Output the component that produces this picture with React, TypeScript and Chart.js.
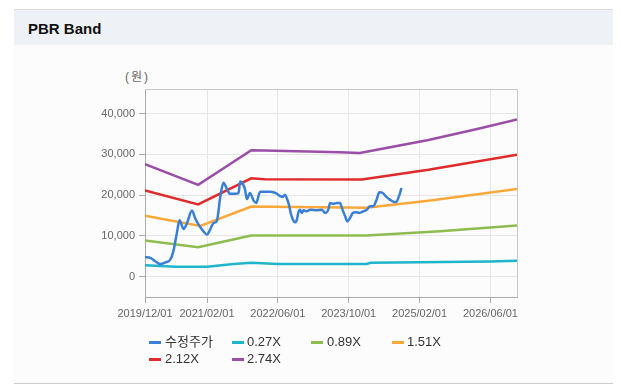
import React, { useEffect, useRef } from "react";
import { Chart, registerables } from "chart.js";

Chart.register(...registerables);

// ---- data ----
const xTickMonths = [0, 14, 30, 46, 62, 78]; // months since 2019/12
const xTickLabels = ["2019/12/01", "2021/02/01", "2022/06/01", "2023/10/01", "2025/02/01", "2026/06/01"];
const yTickValues = [0, 10000, 20000, 30000, 40000];

const priceMonths = [
  0.0, 1.2, 2.3, 3.4, 4.6, 5.7, 6.4, 7.2, 7.8, 8.7, 9.5, 10.6, 11.3, 12.1, 13.2, 14.0, 14.7, 15.5, 16.2,
  17.0, 17.7, 18.5, 19.2, 20.4, 21.1, 21.5, 22.0, 22.6, 23.0, 23.7, 24.5, 25.1, 26.0, 28.3, 29.0, 29.8,
  30.3, 31.1, 31.6, 32.0, 32.5, 32.9, 33.4, 33.9, 34.3, 34.6, 35.0, 35.4, 35.8, 36.5, 37.3, 38.8, 39.9,
  40.7, 41.4, 41.8, 42.5, 43.3, 44.0, 44.6, 45.2, 45.7, 46.3, 46.9, 47.6, 48.4, 49.3, 50.1, 50.8, 51.5,
  52.3, 52.9, 53.7, 54.4, 55.3, 56.2, 56.8, 57.2, 57.6, 57.9,
];
const priceValues = [
  4830, 4580, 3760, 3100, 3500, 4170, 6200, 10700, 13800, 11690, 13160, 16200, 14380, 12750, 11100, 10290, 11520, 13160, 13550,
  19500, 23000, 21500, 20300, 20300, 20500, 23300, 22900, 21320, 19000, 20500, 18700, 18060, 20800, 20800, 20700, 20300,
  19850, 19530, 20100, 19290, 17650, 15610, 13970, 13300, 13970, 15610, 16420, 15610, 16250, 16000, 16420, 16250, 16420,
  15610, 16420, 18060, 17820, 18060, 18060, 16420, 14780, 13550, 14380, 15610, 15800, 15610, 16000, 16420, 17230, 17230,
  18870, 20660, 20500, 19680, 18870, 18310, 18300, 19290, 20500, 21740,
];

const band027Months = [0, 7, 14, 20, 24, 30, 50, 51, 78, 84];
const band027Values = [2800, 2400, 2400, 3100, 3400, 3100, 3100, 3400, 3700, 3900];

const band089Months = [0, 12, 24, 50, 66.6, 84];
const band089Values = [8850, 7200, 10100, 10100, 11100, 12550];

const band151Months = [0, 12.5, 24, 50, 64, 84];
const band151Values = [14950, 12400, 17200, 16900, 18600, 21500];

const band212Months = [0, 12, 24, 27, 49, 64, 84];
const band212Values = [21100, 17700, 24100, 23900, 23800, 26200, 29900];

const band274Months = [0, 12, 24, 27, 44, 48.5, 50, 64, 75, 84];
const band274Values = [27600, 22500, 31000, 30900, 30500, 30300, 30600, 33500, 36200, 38500];

const seriesNames = ["수정주가", "0.27X", "0.89X", "1.51X", "2.12X", "2.74X"];
const seriesColors = ["#3a7fd6", "#1fb5ca", "#8dbd4e", "#fba83a", "#e02a2b", "#9b4ea7"];

const toPts = (xs: number[], ys: number[]) => xs.map((x, i) => ({ x, y: ys[i] }));

const FONT = "'Liberation Sans', Arial, 'Noto Sans CJK KR', sans-serif";

const legendItems = [
  { row: 0, icon: 149, text: 165 },
  { row: 0, icon: 232, text: 247 },
  { row: 0, icon: 311, text: 327 },
  { row: 0, icon: 392, text: 407 },
  { row: 1, icon: 149, text: 165 },
  { row: 1, icon: 232, text: 247 },
];

export default function App() {
  const canvasRef = useRef<HTMLCanvasElement | null>(null);

  useEffect(() => {
    const canvas = canvasRef.current;
    if (!canvas) return;

    const borderPlugin = {
      id: "plotBorder",
      beforeDatasetsDraw(chart: any) {
        const { ctx, chartArea } = chart;
        ctx.save();
        ctx.strokeStyle = "#c8c8c8";
        ctx.lineWidth = 1;
        ctx.beginPath();
        ctx.moveTo(chartArea.left, chartArea.top + 0.5);
        ctx.lineTo(chartArea.right + 0.5, chartArea.top + 0.5);
        ctx.lineTo(chartArea.right + 0.5, chartArea.bottom);
        ctx.stroke();
        ctx.restore();
      },
    };

    const seriesData = [
      toPts(priceMonths, priceValues),
      toPts(band027Months, band027Values),
      toPts(band089Months, band089Values),
      toPts(band151Months, band151Values),
      toPts(band212Months, band212Values),
      toPts(band274Months, band274Values),
    ];

    const chart = new Chart(canvas, {
      type: "line",
      data: {
        datasets: seriesData.map((d, i) => ({
          label: seriesNames[i],
          data: d,
          borderColor: seriesColors[i],
          backgroundColor: seriesColors[i],
          borderWidth: 2.5,
          pointRadius: 0,
          pointHoverRadius: 0,
          tension: i === 0 ? 0.3 : 0,
          cubicInterpolationMode: i === 0 ? "monotone" : "default",
          fill: false,
        })) as any,
      },
      options: {
        responsive: false,
        animation: false,
        devicePixelRatio: 1,
        layout: { padding: { left: 85, right: 104, top: 89, bottom: 61 } },
        plugins: {
          legend: { display: false },
          title: { display: false },
          tooltip: { enabled: false },
        },
        scales: {
          x: {
            type: "linear",
            min: 0,
            max: 84,
            afterBuildTicks: (scale: any) => {
              scale.ticks = xTickMonths.map((v) => ({ value: v }));
            },
            afterFit: (scale: any) => {
              scale.height = 30;
            },
            ticks: {
              autoSkip: false,
              maxRotation: 0,
              minRotation: 0,
              padding: 4,
              color: "#666",
              font: { family: FONT, size: 11 },
              callback: (_v: any, idx: number) => xTickLabels[idx],
            },
            grid: {
              color: "#e6e6e6",
              lineWidth: 1,
              drawTicks: true,
              tickLength: 6,
              tickColor: "#aaaaaa",
            },
            border: { display: true, color: "#aaaaaa", width: 1 },
          },
          y: {
            type: "linear",
            min: -5000,
            max: 46000,
            afterBuildTicks: (scale: any) => {
              scale.ticks = yTickValues.map((v) => ({ value: v }));
            },
            afterFit: (scale: any) => {
              scale.width = 60;
            },
            ticks: {
              padding: 4,
              color: "#666",
              font: { family: FONT, size: 11 },
              callback: (v: any) => Number(v).toLocaleString("en-US"),
            },
            grid: {
              color: "#e6e6e6",
              lineWidth: 1,
              drawTicks: true,
              tickLength: 6,
              tickColor: "#aaaaaa",
            },
            border: { display: true, color: "#aaaaaa", width: 1 },
          },
        },
      },
      plugins: [borderPlugin],
    });

    return () => {
      chart.destroy();
    };
  }, []);

  return (
    <div
      style={{
        position: "absolute",
        left: 0,
        top: 0,
        width: 621,
        height: 388,
        background: "#ffffff",
        overflow: "hidden",
        fontFamily: FONT,
      }}
    >
      {/* panel */}
      <div style={{ position: "absolute", left: 14, top: 9, width: 599, height: 1, background: "#dcdcdc" }} />
      <div style={{ position: "absolute", left: 14, top: 10, width: 599, height: 35, background: "#eef2f7" }} />
      <div style={{ position: "absolute", left: 14, top: 45, width: 599, height: 338, background: "#fcfcfc" }} />
      <div style={{ position: "absolute", left: 14, top: 383, width: 599, height: 1, background: "#cccccc" }} />
      <div
        style={{
          position: "absolute",
          left: 28,
          top: 20,
          fontSize: 15,
          lineHeight: "17px",
          fontWeight: "bold",
          color: "#111",
          fontFamily: FONT,
        }}
      >
        PBR Band
      </div>
      <div
        style={{
          position: "absolute",
          left: 125,
          top: 69,
          fontSize: 12,
          lineHeight: "16px",
          color: "#666",
          letterSpacing: 2,
          fontFamily: "'Liberation Sans', 'Noto Sans CJK KR', sans-serif",
        }}
      >
        (원)
      </div>
      <canvas
        ref={canvasRef}
        width={621}
        height={388}
        style={{ position: "absolute", left: 0, top: 0, width: 621, height: 388, display: "block" }}
      />
      {legendItems.map((it, i) => {
        const cy = it.row === 0 ? 342 : 359;
        return (
          <React.Fragment key={i}>
            <div
              style={{
                position: "absolute",
                left: it.icon,
                top: cy - 1.5,
                width: 12,
                height: 3,
                background: seriesColors[i],
              }}
            />
            <div
              style={{
                position: "absolute",
                left: it.text,
                top: cy - 9,
                fontSize: 13,
                lineHeight: "18px",
                color: "#333",
                whiteSpace: "nowrap",
                fontFamily: FONT,
              }}
            >
              {seriesNames[i]}
            </div>
          </React.Fragment>
        );
      })}
    </div>
  );
}
